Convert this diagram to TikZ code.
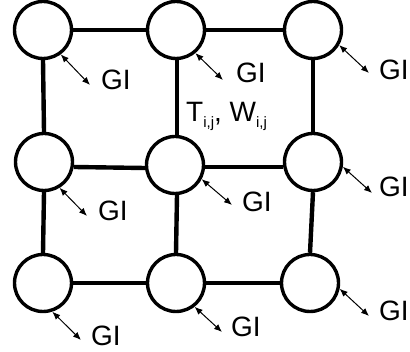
\documentclass[tikz,border=0pt]{standalone}
\usepackage{fontspec}
\setmainfont{Liberation Sans}
\usetikzlibrary{arrows.meta}
\newcommand{\subij}{\raisebox{-6pt}{\fontsize{15}{15}\selectfont i,j}}
\begin{document}
\begin{tikzpicture}[x=1pt,y=-1pt,
  site/.style={circle,draw,line width=3.4pt,fill=white,minimum size=57pt,inner sep=0pt},
  bond/.style={line width=4.4pt},
  thinbond/.style={line width=3.2pt},
  gi/.style={line width=1pt,{Latex[length=8pt,width=6.5pt]}-{Latex[length=8pt,width=6.5pt]}},
  lab/.style={anchor=base west,inner sep=0pt,font=\fontsize{28}{30}\selectfont}]
\useasboundingbox (0,0) rectangle (410,352);
% nodes
\node[site] (c11) at (43,30) {};
\node[site] (c12) at (176,30) {};
\node[site] (c13) at (313,30) {};
\node[site] (c21) at (44,162) {};
\node[site] (c22) at (175,165) {};
\node[site] (c23) at (313,162) {};
\node[site] (c31) at (43,283) {};
\node[site] (c32) at (176,283) {};
\node[site] (c33) at (310,283) {};
% bonds
\draw[bond] (c11.east) -- (c12.west);
\draw[bond] (c12.east) -- (c13.west);
\draw[bond] ([yshift=-5pt]c21.east) -- ([yshift=-3pt]c22.west);
\draw[bond] ([yshift=-2pt]c22.east) -- ([yshift=-5pt]c23.west);
\draw[thinbond] (c31.east) -- (c32.west);
\draw[thinbond] (c32.east) -- (c33.west);
\draw[bond] (c11.south) -- (c21.north);
\draw[bond] (c21.south) -- (c31.north);
\draw[bond] ([xshift=1pt]c12.south) -- ([xshift=2pt]c22.north);
\draw[bond] ([xshift=2pt]c22.south) -- (c32.north);
\draw[bond] (c13.south) -- (c23.north);
\draw[bond] (c23.south) -- (c33.north);
% arrow ends
\coordinate (a11) at (90,85);
\coordinate (a12) at (223,80);
\coordinate (a13) at (369,73);
\coordinate (a21) at (87,216);
\coordinate (a22) at (232,205);
\coordinate (a23) at (372,193);
\coordinate (a31) at (81,340);
\coordinate (a32) at (222,332);
\coordinate (a33) at (369,316);
\draw[gi] (c11.-54) -- (a11);
\draw[gi] (c12.-50) -- (a12);
\draw[gi] (c13.-30) -- (a13);
\draw[gi] (c21.-59) -- (a21);
\draw[gi] (c22.-28) -- (a22);
\draw[gi] (c23.-9) -- (a23);
\draw[gi] (c31.-72) -- (a31);
\draw[gi] (c32.-52) -- (a32);
\draw[gi] (c33.-11) -- (a33);
% labels
\node[lab] (g11) at (101,90) {GI};
\node[lab] (g12) at (236,83) {GI};
\node[lab] (g13) at (379,80) {GI};
\node[lab] (g21) at (98,221) {GI};
\node[lab] (g22) at (242,212) {GI};
\node[lab] (g23) at (379,197) {GI};
\node[lab] (g31) at (91,346) {GI};
\node[lab] (g32) at (231,337) {GI};
\node[lab] (g33) at (379,321) {GI};
\node[lab] (tw) at (186,122) {T\subij, W\subij};
\end{tikzpicture}
\end{document}
